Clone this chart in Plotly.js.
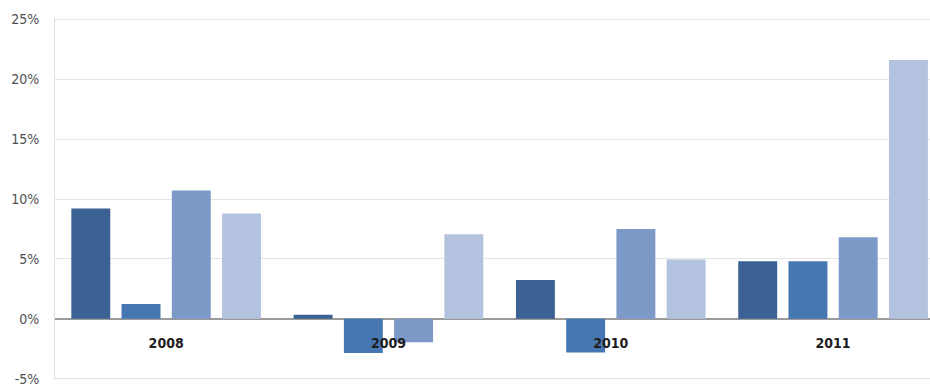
<!DOCTYPE html>
<html>
<head>
<meta charset="utf-8">
<script src="https://cdn.plot.ly/plotly-3.0.1.min.js"></script>
<style>html,body{margin:0;padding:0;background:#fff;}#chart{width:930px;height:385px;}</style>
</head>
<body>
<div id="chart"></div>
<script>
const years = ['2008', '2009', '2010', '2011'];
const series1 = [9.2, 0.35, 3.25, 4.8];
const series2 = [1.25, -2.85, -2.8, 4.8];
const series3 = [10.7, -1.95, 7.5, 6.8];
const series4 = [8.8, 7.05, 4.95, 21.6];
const seriesNames = ['Series 1', 'Series 2', 'Series 3', 'Series 4'];
const colors = ['#3C6194', '#4777B3', '#7C99C7', '#B3C3DF'];
const yTickVals = [-5, 0, 5, 10, 15, 20, 25];

const allSeries = [series1, series2, series3, series4];
const traces = allSeries.map((s, i) => ({
  type: 'bar',
  x: years,
  y: s,
  name: seriesNames[i],
  marker: {color: colors[i], line: {width: 0}},
  hoverinfo: 'x+y'
}));

const yMin = -5.1, yMax = 25.1;
const narrow = '"DejaVu Sans Condensed", "Liberation Sans Narrow", "Roboto Condensed", sans-serif';

const layout = {
  width: 930,
  height: 385,
  margin: {l: 55, r: 0, t: 18, b: 5, pad: 0},
  paper_bgcolor: '#ffffff',
  plot_bgcolor: '#ffffff',
  showlegend: false,
  barmode: 'group',
  bargap: 0.096,
  bargroupgap: 0.225,
  xaxis: {
    type: 'category',
    range: [-0.5, 3.436],
    anchor: 'free',
    position: (0 - yMin) / (yMax - yMin),
    showgrid: false,
    showline: false,
    zeroline: false,
    ticks: '',
    ticklabelstandoff: 14,
    tickfont: {family: narrow, size: 14, color: '#1e1e1e', weight: 'bold'},
    layer: 'above traces'
  },
  yaxis: {
    range: [yMin, yMax],
    tickvals: yTickVals,
    ticktext: yTickVals.map(v => v + '%'),
    showgrid: true,
    gridcolor: '#e4e4e4',
    gridwidth: 1,
    zeroline: true,
    zerolinecolor: '#9a9a9a',
    zerolinewidth: 1.5,
    showline: true,
    linecolor: '#e0e0e0',
    linewidth: 1,
    ticks: '',
    ticklabelstandoff: 12,
    ticklabeloverflow: 'allow',
    tickfont: {family: narrow, size: 14, color: '#505050'}
  }
};

Plotly.newPlot('chart', traces, layout, {displayModeBar: false, staticPlot: true});
</script>
</body>
</html>
